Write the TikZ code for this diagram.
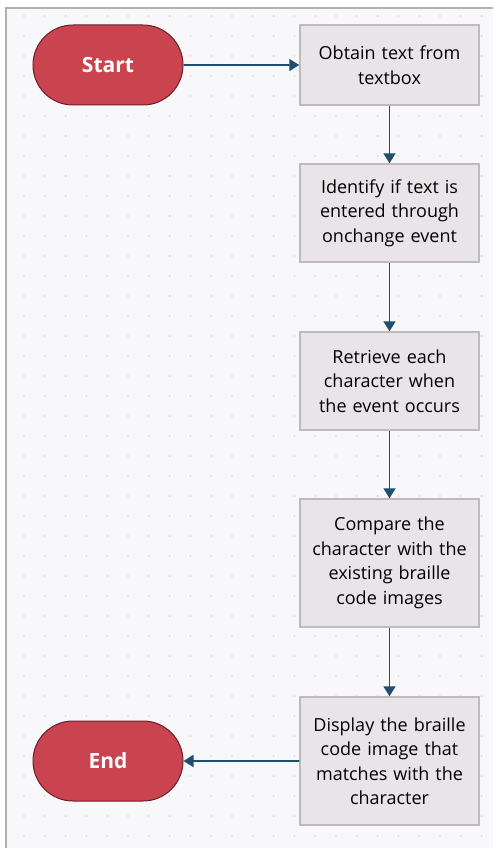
\documentclass[tikz,border=0pt]{standalone}
\usepackage{fontspec}
\setmainfont{Open Sans}
\usetikzlibrary{arrows.meta,shapes.misc}
\definecolor{bgc}{HTML}{F8F8FB}
\definecolor{dotc}{HTML}{D6D6DC}
\definecolor{framec}{HTML}{B0B0B4}
\definecolor{termfill}{HTML}{C9444F}
\definecolor{termdraw}{HTML}{6E1E2A}
\definecolor{boxfill}{HTML}{E8E4E7}
\definecolor{boxdraw}{HTML}{BDBBBD}
\definecolor{arrc}{HTML}{1F4F6E}
\tikzset{
  term/.style={rounded rectangle, fill=termfill, draw=termdraw, line width=1pt,
    minimum width=150pt, minimum height=80pt, inner sep=0pt,
    text=white, font=\fontsize{21}{24}\selectfont\bfseries},
  stepbox/.style={rectangle, fill=boxfill, draw=boxdraw, line width=1.5pt,
    minimum width=179pt, inner sep=0pt, text width=176pt, align=center,
    font=\fontsize{18}{24.5}\selectfont},
  conn/.style={draw=arrc, line width=1.8pt, -{Triangle[length=10pt,width=12pt]}}
}
\begin{document}
\begin{tikzpicture}[x=1pt,y=-1pt]
\useasboundingbox (0,0) rectangle (493,848);
\fill[white] (0,0) rectangle (493,848);
\fill[bgc] (6,8) rectangle (493,848);
\foreach \i in {0,...,23}{
  \foreach \j in {0,...,41}{
    \fill[dotc] (24+\i*20.8,16+\j*20) circle (0.9pt);
  }
}
\draw[framec, line width=2pt] (6,848) -- (6,8) -- (493,8);

\node[term] (start) at (108,65) {Start};
\node[term] (end) at (108,761) {End};

\node[stepbox, minimum height=80pt] (b1) at (389.5,65) {Obtain text from\\textbox};
\node[stepbox, minimum height=98pt] (b2) at (389.5,213) {Identify if text is\\entered through\\onchange event};
\node[stepbox, minimum height=98pt] (b3) at (389.5,381) {Retrieve each\\character when\\the event occurs};
\node[stepbox, minimum height=128pt] (b4) at (389.5,563) {Compare the\\character with the\\existing braille\\code images};
\node[stepbox, minimum height=128pt] (b5) at (389.5,761) {Display the braille\\code image that\\matches with the\\character};

\draw[conn] (start) -- (b1);
\draw[conn] (b1) -- (b2);
\draw[conn] (b2) -- (b3);
\draw[conn] (b3) -- (b4);
\draw[conn] (b4) -- (b5);
\draw[conn] (b5) -- (end);
\end{tikzpicture}
\end{document}
